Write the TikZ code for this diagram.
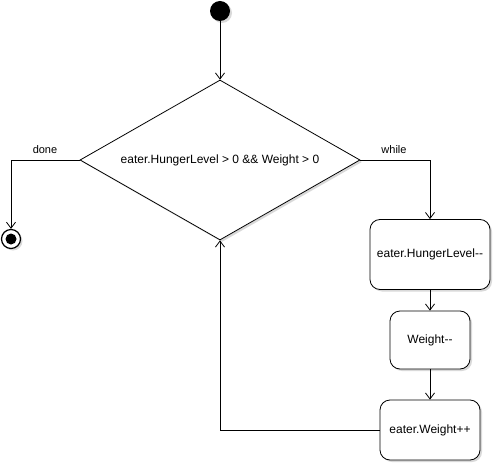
\documentclass[tikz,border=0pt]{standalone}
\usepackage{fontspec}
\setmainfont{Liberation Sans}
\usetikzlibrary{arrows.meta,shapes.geometric,shadows}
\newcommand{\dm}{\mbox{-}\mbox{-}}
\begin{document}
\begin{tikzpicture}[x=1pt,y=-1pt,
  font=\fontsize{12}{14}\selectfont,
  shad/.style={drop shadow={opacity=0.25,fill=black!60,shadow xshift=2pt,shadow yshift=-2pt}},
  act/.style={draw=black,fill=white,rounded corners=10pt,inner sep=0pt,line width=0.8pt,shad},
  flow/.style={draw=black,line width=0.8pt,-{Straight Barb[length=6pt,width=9pt,line width=0.8pt]}},
  lbl/.style={inner sep=0pt,font=\fontsize{11}{13}\selectfont}]
\useasboundingbox (0,0) rectangle (495,465);
% start
\node (start) [circle,fill=black,inner sep=0pt,minimum size=20pt,shad] at (220,11) {};
% decision
\node (dec) [diamond,draw=black,fill=white,line width=0.8pt,inner sep=0pt,aspect=1.75,minimum width=280pt,minimum height=160pt,shad] at (220,160) {eater.HungerLevel > 0 \&\& Weight > 0};
% actions
\node (a1) [act,minimum width=120pt,minimum height=70pt] at (430,254.5) {eater.HungerLevel\dm};
\node (a2) [act,minimum width=80pt,minimum height=58pt] at (430,340) {Weight\dm};
\node (a3) [act,minimum width=100pt,minimum height=60pt] at (430,430) {eater.Weight++};
% end
\node (end) [circle,draw=black,fill=white,line width=1.2pt,inner sep=0pt,minimum size=19pt,shad] at (11,239) {};
\node (endin) [circle,fill=black,inner sep=0pt,minimum size=11pt] at (end.center) {};
% connectors
\draw[flow] (start) -- (dec.north);
\draw[flow] (dec.west) -| (end.north);
\draw[flow] (dec.east) -| (a1.north);
\draw[flow] (a1) -- (a2);
\draw[flow] (a2) -- (a3);
\draw[flow] (a3.west) -| (dec.south);
% labels
\node (ldone) [lbl] at (45,150) {done};
\node (lwhile) [lbl] at (394,150) {while};
\end{tikzpicture}
\end{document}
